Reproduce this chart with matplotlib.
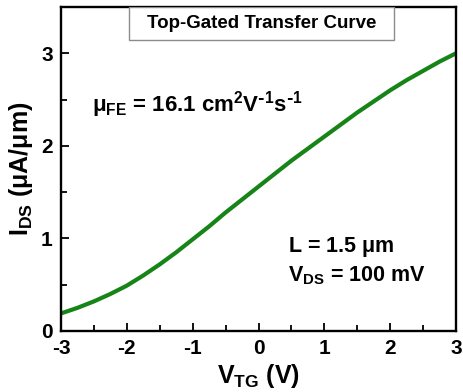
import matplotlib
matplotlib.use("Agg")
import matplotlib.pyplot as plt
from matplotlib.patches import Rectangle
import numpy as np

plt.rcParams['font.family'] = 'Liberation Sans'
plt.rcParams['font.weight'] = 'bold'
plt.rcParams['mathtext.default'] = 'regular'
plt.rcParams['axes.unicode_minus'] = False

# transfer curve, read at quarter-volt steps
vtg = [-3.0, -2.75, -2.5, -2.25, -2.0, -1.75, -1.5, -1.25, -1.0, -0.75, -0.5, -0.25,
       0.0, 0.25, 0.5, 0.75, 1.0, 1.25, 1.5, 1.75, 2.0, 2.25, 2.5, 2.75, 3.0]
ids = [0.19, 0.25, 0.32, 0.40, 0.49, 0.60, 0.72, 0.85, 0.99, 1.13, 1.28, 1.42,
       1.56, 1.70, 1.84, 1.97, 2.10, 2.23, 2.36, 2.48, 2.60, 2.71, 2.81, 2.91, 3.00]

xticks = [-3, -2, -1, 0, 1, 2, 3]
yticks = [0, 1, 2, 3]

fig = plt.figure(figsize=(4.63, 3.92), dpi=100)
ax = fig.add_axes([61 / 463, 1 - 331 / 392, 395 / 463, 324 / 392])

ax.plot(vtg, ids, color='#168416', lw=3, solid_joinstyle='round', solid_capstyle='butt')

ax.set_xlim(-3, 3)
ax.set_ylim(0, 3.5)
ax.set_xticks(xticks)
ax.set_yticks(yticks)
ax.set_xticks(np.arange(-2.5, 3, 1.0), minor=True)
ax.set_yticks([0.5, 1.5, 2.5], minor=True)
ax.tick_params(which='both', direction='in', labelsize=15, width=1.3)
ax.tick_params(which='major', length=6)
ax.tick_params(which='minor', length=4)
ax.tick_params(axis='x', pad=6)
ax.tick_params(axis='y', pad=6)
for s in ax.spines.values():
    s.set_linewidth(1.7)

ax.set_xlabel('$V_{TG}$ (V)', fontsize=18, fontweight='bold', labelpad=3)
ax.set_ylabel('$I_{DS}$ ($\\mu$A/$\\mu$m)', fontsize=18, fontweight='bold', labelpad=4)

ax.text(-2.53, 2.45, '$\\mu_{FE}$ = 16.1 cm$^{2}$V$^{\\text{-}1}$s$^{\\text{-}1}$', fontsize=16,
        fontweight='bold', va='center')
ax.text(0.45, 0.91, 'L = 1.5 $\\mu$m', fontsize=15.5, fontweight='bold', va='center')
ax.text(0.45, 0.60, '$V_{DS}$ = 100 mV', fontsize=15.5, fontweight='bold', va='center')

# title box hanging from the top spine
ax.add_patch(Rectangle((0.172, 0.898), 0.671, 0.102, transform=ax.transAxes,
                       fc='white', ec='#8c8c8c', lw=1.0, zorder=3))
ax.text(0.5075, 0.949, 'Top-Gated Transfer Curve', transform=ax.transAxes,
        fontsize=13.5, fontweight='bold', ha='center', va='center', zorder=4)

fig.savefig('out.png', dpi=100)
